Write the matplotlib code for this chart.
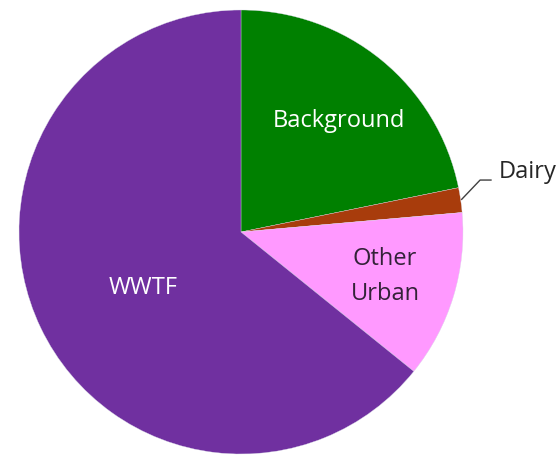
import matplotlib.pyplot as plt

# data (percent of total)
labels = ['Background', 'Dairy', 'Other Urban', 'WWTF']
shares = [21.8, 1.8, 12.2, 64.2]
colors = ['#008000', '#A83C0C', '#FF99FF', '#7030A0']
text_colors = ['white', '#262626', '#332238', 'white']

plt.rcParams['font.family'] = ['Open Sans', 'DejaVu Sans']

fig = plt.figure(figsize=(5.59, 4.55), dpi=100)
ax = fig.add_axes([0, 0, 1, 1])

wedges, _ = ax.pie(shares, colors=colors, startangle=90, counterclock=False,
                   radius=1, wedgeprops=dict(edgecolor='#d8d8e8', linewidth=0.25))

# pie center at (241, 232) px, radius 222 px -- set after pie() (it resets limits)
r = 222.0
ax.set_xlim(-241 / r, (559 - 241) / r)
ax.set_ylim(-(455 - 232) / r, 232 / r)
ax.set_aspect('equal')
ax.axis('off')

fs = 17
# label anchors (baseline, relative to radius)
ax.text(0.443, 0.474, labels[0], ha='center', va='baseline', fontsize=fs,
        color=text_colors[0])
ax.text(1.159, 0.245, labels[1], ha='left', va='baseline', fontsize=fs,
        color=text_colors[1])
line1, line2 = labels[2].split(' ')
ax.text(0.649, -0.149, line1, ha='center', va='baseline', fontsize=fs,
        color=text_colors[2])
ax.text(0.649, -0.306, line2, ha='center', va='baseline', fontsize=fs,
        color=text_colors[2])
ax.text(-0.441, -0.281, labels[3], ha='center', va='baseline', fontsize=fs,
        color=text_colors[3])

# leader line for Dairy
ax.plot([0.994, 1.077, 1.126], [0.147, 0.234, 0.234], color='#404040', lw=1.0)

fig.savefig('out.png', dpi=100)
